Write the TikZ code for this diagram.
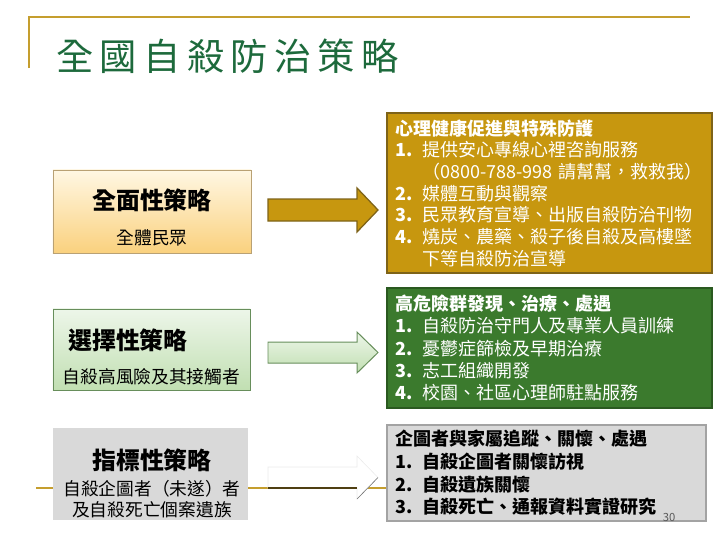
\documentclass[tikz,border=0pt]{standalone}
\usepackage{fontspec}
\setmainfont{Noto Sans CJK TC}
\usepackage{tikz}
\usetikzlibrary{calc}
\definecolor{framegold}{HTML}{C59E2E}
\definecolor{titlegreen}{HTML}{1D6A3C}
\definecolor{widetop}{HTML}{FFF7E3}
\definecolor{widebot}{HTML}{FAD17E}
\definecolor{wideline}{HTML}{B9A174}
\definecolor{seltop}{HTML}{EDF6E9}
\definecolor{selbot}{HTML}{C1DFB2}
\definecolor{selline}{HTML}{678E5B}
\definecolor{boxgold}{HTML}{C7970F}
\definecolor{boxgoldline}{HTML}{7E6318}
\definecolor{boxgreen}{HTML}{3B7A2D}
\definecolor{boxgreenline}{HTML}{2A5920}
\definecolor{boxgray}{HTML}{D9D9D9}
\definecolor{boxgrayline}{HTML}{A3A3A3}
\newcommand{\itm}[1]{\makebox[1.45em][l]{\textbf{#1}}}

\begin{document}
\begin{tikzpicture}[x=0.025cm,y=-0.025cm,
  levelbox/.style={inner sep=0pt,outer sep=0pt},
  strat/.style={font=\bfseries\fontsize{17}{20}\selectfont,inner sep=0pt},
  group/.style={font=\fontsize{12.6}{15}\selectfont,inner sep=0pt},
  listbox/.style={levelbox,inner xsep=0.225cm,align=left,line width=1.4pt},
  goldarrow/.style={fill=boxgold,draw=boxgoldline,line width=0.9pt},
  greenarrow/.style={top color=seltop,bottom color=selbot,draw=selline,line width=0.7pt}]
  \useasboundingbox (0,0) rectangle (720,540);
  % ---- title frame
  \draw[framegold,line width=2.1pt] (29,68) -- (29,17) -- (690,17);
  \node[anchor=west,inner sep=0pt,text=titlegreen,
    font=\fontsize{26.5}{30}\selectfont\addfontfeature{LetterSpace=17}]
    (title) at (56,56) {全國自殺防治策略};
  % ---- row 1: universal
  \node[levelbox,top color=widetop,bottom color=widebot,draw=wideline,
    minimum width=4.95cm,minimum height=2.075cm] (wide) at (152,211.5) {};
  \node[strat] (wideT) at (152,200) {全面性策略};
  \node[group] (wideG) at (152,238) {全體民眾};
  \draw[goldarrow] (268,199) -- (357,199) -- (357,188) -- (378,210)
    -- (357,232) -- (357,221) -- (268,221) -- cycle;
  \node[listbox,fill=boxgold,draw=boxgoldline,text=white,text width=7.675cm,
    minimum height=4cm,font=\fontsize{12.8}{15.4}\selectfont] (wideL) at (549.5,193) {%
    \textbf{心理健康促進與特殊防護}\\
    \itm{1.}提供安心專線心裡咨詢服務\\
    \hspace*{1.45em}（0800-788-998 請幫幫，救救我）\\
    \itm{2.}媒體互動與觀察\\
    \itm{3.}民眾教育宣導、出版自殺防治刊物\\
    \itm{4.}燒炭、農藥、殺子後自殺及高樓墜\\
    \hspace*{1.45em}下等自殺防治宣導};
  % ---- row 2: selective
  \node[levelbox,top color=seltop,bottom color=selbot,draw=selline,
    minimum width=4.925cm,minimum height=2.025cm] (sel) at (151.5,349.5) {};
  \node[strat,anchor=west] (selT) at (68,340) {選擇性策略};
  \node[group] (selG) at (151.5,377) {自殺高風險及其接觸者};
  \draw[greenarrow] (268,342) -- (357,342) -- (357,332) -- (378,352.5)
    -- (357,373) -- (357,363) -- (268,363) -- cycle;
  \node[listbox,fill=boxgreen,draw=boxgreenline,text=white,text width=7.675cm,
    minimum height=3cm,font=\fontsize{12.8}{15.8}\selectfont] (selL) at (549.5,348) {%
    \textbf{高危險群發現、治療、處遇}\\
    \itm{1.}自殺防治守門人及專業人員訓練\\
    \itm{2.}憂鬱症篩檢及早期治療\\
    \itm{3.}志工組織開發\\
    \itm{4.}校園、社區心理師駐點服務};
  % ---- row 3: indicated
  \draw[framegold,line width=2.1pt] (36,488) -- (387,488);
  \node[levelbox,fill=boxgray,minimum width=4.875cm,minimum height=2.3cm]
    (ind) at (150.5,474) {};
  \node[strat] (indT) at (152,460) {指標性策略};
  \node[group] (indG) at (152,489) {自殺企圖者（未遂）者};
  \node[group] (indH) at (152,510) {及自殺死亡個案遺族};
  \draw[fill=white,draw=black!8] (268,467) -- (357,467) -- (357,456) -- (378,477.5)
    -- (357,499) -- (357,488) -- (268,488) -- cycle;
  \draw[line width=1.4pt,color=black!60!framegold] (268,488) -- (357,488);
  \draw[black!55] (357,499) -- (378,477.5);
  \node[listbox,fill=boxgray,draw=boxgrayline,text width=7.525cm,
    minimum height=2.4cm,font=\bfseries\fontsize{12.8}{16.1}\selectfont] (indL) at (546.5,473) {%
    企圖者與家屬追蹤、關懷、處遇\\
    \itm{1.}自殺企圖者關懷訪視\\
    \itm{2.}自殺遺族關懷\\
    \itm{3.}自殺死亡、通報資料實證研究};
  \node[font=\fontsize{8}{9}\selectfont,text=black!65,inner sep=0pt] (page) at (669,517) {30};
\end{tikzpicture}
\end{document}
